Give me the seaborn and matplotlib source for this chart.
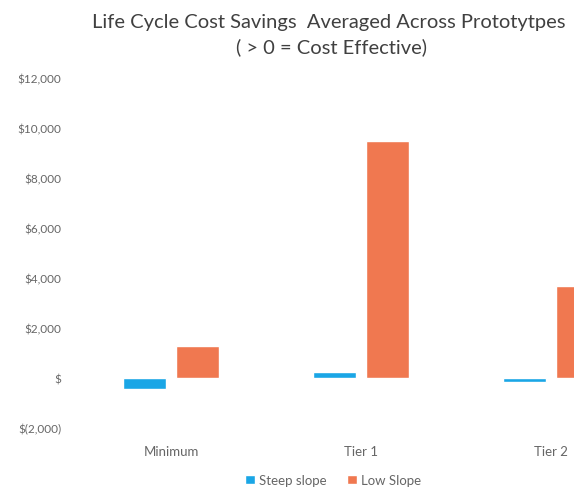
import pandas as pd
import matplotlib.pyplot as plt
import matplotlib.ticker as mticker
import seaborn as sns

categories = ["Minimum", "Tier 1", "Tier 2"]
series = ["Steep slope", "Low Slope"]
steep_slope = [-450, 250, -150]
low_slope = [1300, 9500, 3700]
colors = ["#1AA6E6", "#F07850"]

df = pd.DataFrame({
    "category": categories * 2,
    "series": [series[0]] * 3 + [series[1]] * 3,
    "value": steep_slope + low_slope,
})

sns.set_style("white")
plt.rcParams["font.family"] = ["Lato", "DejaVu Sans"]

fig = plt.figure(figsize=(5.74, 4.89), dpi=100)
ax = fig.add_axes([0.131, 0.1227, 0.869, 0.7157])

sns.barplot(
    data=df, x="category", y="value", hue="series",
    palette=colors, width=0.56, gap=0.19, saturation=1,
    legend=True, ax=ax,
)

ax.set_xlim(-0.505, 2.12)
ax.set_ylim(-2000, 12000)
ax.set_yticks(range(-2000, 12001, 2000))


def money(v, pos):
    if v == 0:
        return "$"
    if v < 0:
        return f"$({abs(v):,.0f})"
    return f"${v:,.0f}"


ax.yaxis.set_major_formatter(mticker.FuncFormatter(money))
ax.tick_params(axis="y", labelsize=8.5, labelcolor="#666666", length=0, pad=10)
ax.tick_params(axis="x", labelsize=9.5, labelcolor="#666666", length=0, pad=12)
ax.set_xlabel("")
ax.set_ylabel("")
for s in ax.spines.values():
    s.set_visible(False)

fig.text(0.573, 0.954, "Life Cycle Cost Savings  Averaged Across Prototytpes",
         ha="center", va="center", fontsize=14.5, color="#404040")
fig.text(0.577, 0.903, "( > 0 = Cost Effective)",
         ha="center", va="center", fontsize=14.5, color="#404040")

ax.legend(loc="center", bbox_to_anchor=(0.58, 0.016), bbox_transform=fig.transFigure,
          ncol=2, frameon=False, fontsize=9.5, handlelength=0.8, handleheight=0.6,
          handletextpad=0.3, columnspacing=1.5, labelcolor="#666666")

plt.savefig("out.png", dpi=100)
plt.close()
